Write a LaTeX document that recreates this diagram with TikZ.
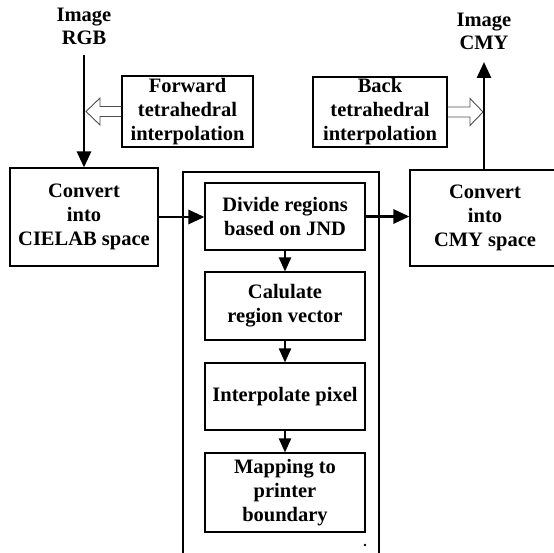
\documentclass[tikz,border=0pt]{standalone}
\usepackage{fontspec}
\setmainfont{Liberation Serif}
\usetikzlibrary{arrows.meta,calc}
\begin{document}
\begin{tikzpicture}[x=1pt,y=-1pt,
  box/.style={draw, line width=1.1pt, align=center, font=\bfseries\fontsize{20.5}{24}\selectfont, inner sep=0pt},
  lbl/.style={align=center, font=\bfseries\fontsize{20.5}{23}\selectfont, inner sep=0pt},
  arr/.style={line width=2.8pt, -{Triangle[length=16pt,width=14pt]}},
  sarr/.style={line width=2.2pt, -{Triangle[length=14pt,width=12pt]}},
  hollow/.style={draw=black!70, line width=0.9pt, line join=miter}
]
\clip (0,0) rectangle (554,553);

\node[lbl] (rgb) at (84,26.5) {Image\\RGB};
\node[lbl] (cmyimg) at (484,31.5) {Image\\CMY};

\node[box, minimum width=131, minimum height=71] (fwd) at (187.5,111.5) {Forward\\tetrahedral\\interpolation};
\node[box, minimum width=134, minimum height=70] (bck) at (380,112) {Back\\tetrahedral\\interpolation};

\node[box, minimum width=148, minimum height=98] (cielab) at (84,217) {Convert\\into\\CIELAB space};
\node[box, minimum width=196, minimum height=428] (mid) at (281,386) {};
\node[box, minimum width=150, minimum height=96] (cmy) at (485,218) {Convert\\into\\CMY space};

\node[box, minimum width=160, minimum height=67] (divide) at (285,216.5) {Divide regions\\based on JND};
\node[box, minimum width=160, minimum height=68] (calc) at (285,306) {Calulate\\region vector};
\node[box, minimum width=160, minimum height=67] (interp) at (285,396.5) {Interpolate pixel};
\node[box, minimum width=160, minimum height=79] (map) at (285,492.5) {Mapping to\\printer\\boundary};

% hollow arrows
\coordinate (fwdtip) at (86,111.5);
\draw[hollow] ($(fwd.west)+(0,-5)$) -- ($(fwdtip)+(14,-5)$) -- ($(fwdtip)+(14,-13.5)$) -- (fwdtip) -- ($(fwdtip)+(14,13.5)$) -- ($(fwdtip)+(14,5)$) -- ($(fwd.west)+(0,5)$);
\coordinate (bcktip) at (483,112);
\draw[hollow] ($(bck.east)+(0,-5)$) -- ($(bcktip)+(-13,-5)$) -- ($(bcktip)+(-13,-13.5)$) -- (bcktip) -- ($(bcktip)+(-13,13.5)$) -- ($(bcktip)+(-13,5)$) -- ($(bck.east)+(0,5)$);

% main arrows
\coordinate (rgbstart) at (84,55);
\draw[arr] (rgbstart) -- (cielab.north);
\draw[arr] (cielab.east) -- (cielab.east -| divide.west);
\draw[arr] (divide.east) -- (divide.east -| cmy.west);
\coordinate (cmytip) at (484,62);
\draw[arr] (cmytip |- cmy.north) -- (cmytip);

\draw[sarr] (divide.south) -- (calc.north);
\draw[sarr] (calc.south) -- (interp.north);
\draw[sarr] (interp.south) -- (map.north);

\fill (365,545) circle (1.3);
\end{tikzpicture}
\end{document}
